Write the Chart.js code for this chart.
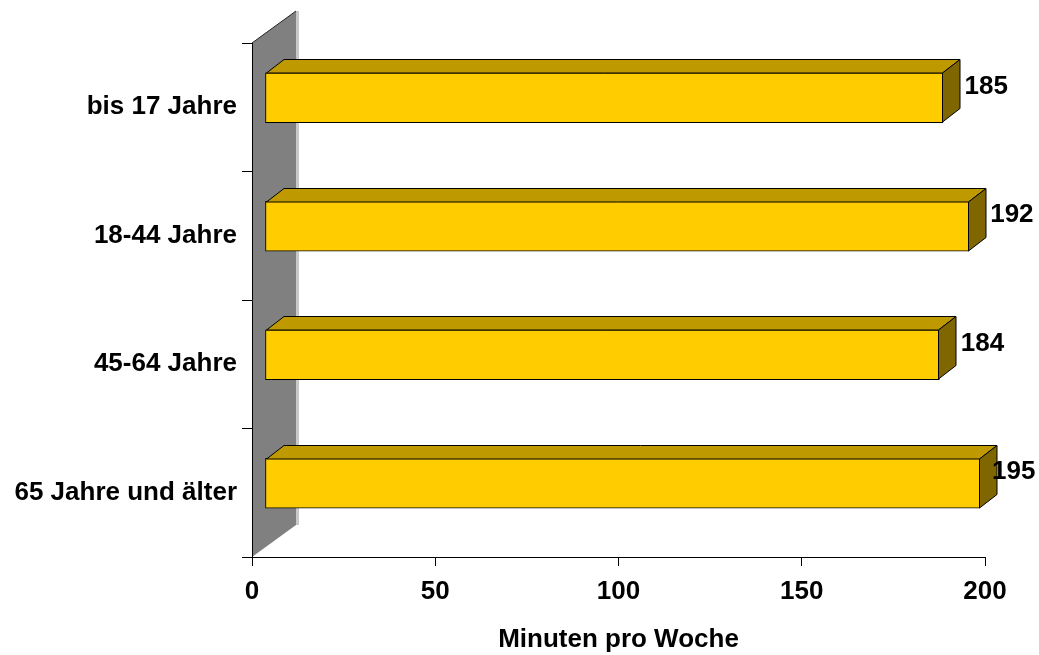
<!DOCTYPE html>
<html>
<head>
<meta charset="utf-8">
<script src="https://cdn.jsdelivr.net/npm/chart.js@4/dist/chart.umd.min.js"></script>
<style>
  html, body { margin: 0; padding: 0; background: #fff; }
  canvas { display: block; }
</style>
</head>
<body>
<canvas id="c" width="1039" height="655"></canvas>
<script>
// Fernsehnutzung nach Altersgruppen (Minuten pro Woche)
const categories = ['bis 17 Jahre', '18-44 Jahre', '45-64 Jahre', '65 Jahre und älter'];
const minutesPerWeek = [185, 192, 184, 195];
const axisTicks = [0, 50, 100, 150, 200];
const axisTitle = 'Minuten pro Woche';

const FONT = '"Liberation Sans", Arial, sans-serif';
const WALL_DEPTH = { x: 44, y: -32 };   // back wall depth projection
const BAR_SHIFT = { x: 13, y: -9.5 };   // bars sit a little inside the depth
const BAR_DEPTH = { x: 17.5, y: -13.5 };// thickness of each bar block
const COLORS = {
  front: '#FFCC00', top: '#BF9900', side: '#7F6600',
  wall: '#808080', wallEdge: '#C8C8C8', ink: '#000'
};

// grey side wall behind the category axis
const wall3d = {
  id: 'wall3d',
  beforeDraw(chart) {
    const { ctx, chartArea: a } = chart;
    const x0 = a.left, x1 = a.left + WALL_DEPTH.x;
    ctx.save();
    ctx.fillStyle = COLORS.wall;
    ctx.beginPath();
    ctx.moveTo(x0, a.top);
    ctx.lineTo(x1, a.top + WALL_DEPTH.y);
    ctx.lineTo(x1, a.bottom + WALL_DEPTH.y);
    ctx.lineTo(x0, a.bottom);
    ctx.closePath();
    ctx.fill();
    ctx.fillStyle = COLORS.wallEdge;
    ctx.fillRect(x1, a.top + WALL_DEPTH.y, 3, a.bottom - a.top);
    ctx.strokeStyle = '#222';
    ctx.lineWidth = 1;
    ctx.beginPath();
    ctx.moveTo(x0, a.top);
    ctx.lineTo(x1, a.top + WALL_DEPTH.y);
    ctx.stroke();
    ctx.restore();
  }
};

// shift bar fronts into the depth and add top and end faces
const bars3d = {
  id: 'bars3d',
  beforeDatasetsDraw(chart) {
    chart.ctx.save();
    chart.ctx.translate(BAR_SHIFT.x, BAR_SHIFT.y);
  },
  afterDatasetsDraw(chart) {
    const ctx = chart.ctx;
    const meta = chart.getDatasetMeta(0);
    const dx = BAR_DEPTH.x, dy = BAR_DEPTH.y;
    ctx.lineWidth = 1;
    ctx.strokeStyle = COLORS.ink;
    ctx.lineJoin = 'miter';
    meta.data.forEach(el => {
      const { x, y, base, height } = el.getProps(['x', 'y', 'base', 'height'], true);
      const t = Math.round(y - height / 2) + 0.5;
      const b = Math.round(y + height / 2) - 0.5;
      const l = Math.round(base) + 0.5;
      const r = Math.round(x) - 0.5;
      ctx.beginPath();
      ctx.moveTo(l, t);
      ctx.lineTo(l + dx, t + dy);
      ctx.lineTo(r + dx, t + dy);
      ctx.lineTo(r, t);
      ctx.closePath();
      ctx.fillStyle = COLORS.top;
      ctx.fill();
      ctx.stroke();
      ctx.beginPath();
      ctx.moveTo(r, t);
      ctx.lineTo(r + dx, t + dy);
      ctx.lineTo(r + dx, b + dy);
      ctx.lineTo(r, b);
      ctx.closePath();
      ctx.fillStyle = COLORS.side;
      ctx.fill();
      ctx.stroke();
    });
    ctx.restore();
  },
  afterDraw(chart) {
    const ctx = chart.ctx;
    const meta = chart.getDatasetMeta(0);
    ctx.save();
    ctx.font = 'bold 26px ' + FONT;
    ctx.fillStyle = COLORS.ink;
    ctx.textBaseline = 'middle';
    ctx.textAlign = 'left';
    meta.data.forEach((el, i) => {
      const text = String(minutesPerWeek[i]);
      const w = ctx.measureText(text).width;
      let lx = el.x + BAR_SHIFT.x + BAR_DEPTH.x + 4;
      lx = Math.min(lx, chart.width - 3.5 - w);
      ctx.fillText(text, lx, el.y + BAR_SHIFT.y + BAR_DEPTH.y + 2.5);
    });
    ctx.restore();
  }
};

const font26 = { family: FONT, size: 26, weight: 'bold' };

new Chart(document.getElementById('c'), {
  type: 'bar',
  data: {
    labels: categories,
    datasets: [{
      data: minutesPerWeek,
      backgroundColor: COLORS.front,
      borderColor: COLORS.ink,
      borderWidth: 1,
      borderSkipped: false,
      barThickness: 50
    }]
  },
  options: {
    indexAxis: 'y',
    responsive: false,
    animation: false,
    devicePixelRatio: 1,
    layout: { padding: { top: 43, right: 54, left: 0, bottom: 0 } },
    plugins: { legend: { display: false }, tooltip: { enabled: false } },
    scales: {
      x: {
        min: 0,
        max: 200,
        afterBuildTicks: s => { s.ticks = axisTicks.map(v => ({ value: v })); },
        afterFit: s => { s.height = 98; },
        grid: { drawOnChartArea: false, tickLength: 9, color: COLORS.ink },
        border: { color: COLORS.ink },
        ticks: { font: font26, color: COLORS.ink, padding: 10, maxRotation: 0 },
        title: { display: true, text: axisTitle, font: font26, color: COLORS.ink, padding: { top: 4, bottom: 0 } }
      },
      y: {
        afterFit: s => { s.width = 252; },
        grid: { drawOnChartArea: false, tickLength: 10, color: COLORS.ink, offset: true },
        border: { color: COLORS.ink },
        ticks: { font: font26, color: COLORS.ink, padding: 5 }
      }
    }
  },
  plugins: [wall3d, bars3d]
});
</script>
</body>
</html>
